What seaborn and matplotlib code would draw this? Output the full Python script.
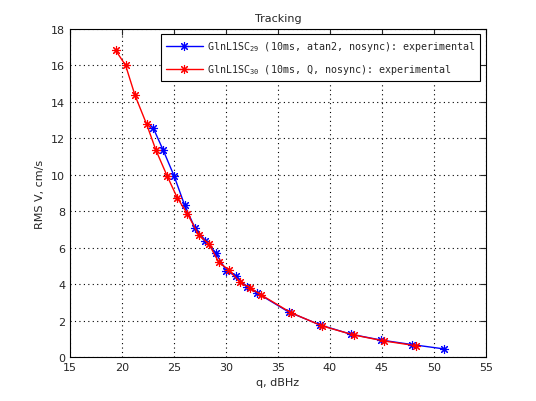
import matplotlib
matplotlib.use("Agg")
import matplotlib.pyplot as plt
import seaborn as sns
import pandas as pd

# series
q_29 = [23.0, 23.97, 25.0, 26.03, 27.0, 28.02, 29.02, 30.03, 31.0, 32.0,
        33.0, 36.03, 39.0, 42.0, 44.9, 47.9, 51.0]
rms_29 = [12.57, 11.34, 9.95, 8.32, 7.1, 6.39, 5.7, 4.73, 4.42, 3.86,
          3.51, 2.47, 1.77, 1.25, 0.93, 0.68, 0.44]

q_30 = [19.39, 20.35, 21.25, 22.37, 23.27, 24.33, 25.32, 26.28, 27.37, 28.37,
        29.3, 30.29, 31.35, 32.34, 33.34, 36.25, 39.26, 42.27, 45.19, 48.24]
rms_30 = [16.83, 16.0, 14.36, 12.77, 11.34, 9.95, 8.73, 7.87, 6.71, 6.18,
          5.21, 4.77, 4.1, 3.79, 3.42, 2.43, 1.7, 1.21, 0.88, 0.62]

label_29 = r"GlnL1SC$_{29}$ (10ms, atan2, nosync): experimental"
label_30 = r"GlnL1SC$_{30}$ (10ms, Q, nosync): experimental"

x_ticks = [15, 20, 25, 30, 35, 40, 45, 50, 55]
y_ticks = [0, 2, 4, 6, 8, 10, 12, 14, 16, 18]

sns.set_style("white")
plt.rcParams["font.family"] = ["DejaVu Sans"]
plt.rcParams["mathtext.fontset"] = "custom"
plt.rcParams["mathtext.rm"] = "DejaVu Sans Mono"
plt.rcParams["mathtext.it"] = "DejaVu Sans Mono"

df_29 = pd.DataFrame({"q": q_29, "rms": rms_29})
df_30 = pd.DataFrame({"q": q_30, "rms": rms_30})

# matlab style asterisk: plus and cross
asterisk = (8, 2, 0)

fig = plt.figure(figsize=(5.36, 4.02), dpi=100)
ax = fig.add_axes([0.1306, 0.1095, 0.776, 0.8159])

sns.lineplot(
    data=df_29, x="q", y="rms", ax=ax, color="blue", marker=asterisk,
    markersize=6.5, markeredgecolor="blue", markeredgewidth=0.8,
    linewidth=1, label=label_29, sort=False
)
sns.lineplot(
    data=df_30, x="q", y="rms", ax=ax, color="red", marker=asterisk,
    markersize=6.5, markeredgecolor="red", markeredgewidth=0.8,
    linewidth=1, label=label_30, sort=False
)

ax.set_xlim(15, 55)
ax.set_ylim(0, 18)
ax.set_xticks(x_ticks)
ax.set_yticks(y_ticks)
ax.tick_params(direction="in", length=4, labelsize=8, width=0.8,
               top=True, right=True)
ax.grid(True, linestyle=(0, (1, 3)), color="black", linewidth=0.8)
for s in ax.spines.values():
    s.set_color("black")
    s.set_linewidth(0.8)

ax.set_title("Tracking", fontsize=8)
ax.set_xlabel("q, dBHz", fontsize=8)
ax.set_ylabel("RMS V, cm/s", fontsize=8)

leg = ax.legend(
    loc="upper right", fontsize=7.2, frameon=True, fancybox=False,
    edgecolor="black", handlelength=3.7, handletextpad=0.4,
    borderaxespad=0.55, labelspacing=0.9, borderpad=0.5, framealpha=1
)
leg.get_frame().set_linewidth(0.8)
for t in leg.get_texts():
    t.set_family("DejaVu Sans Mono")

fig.savefig("out.png", dpi=100)
